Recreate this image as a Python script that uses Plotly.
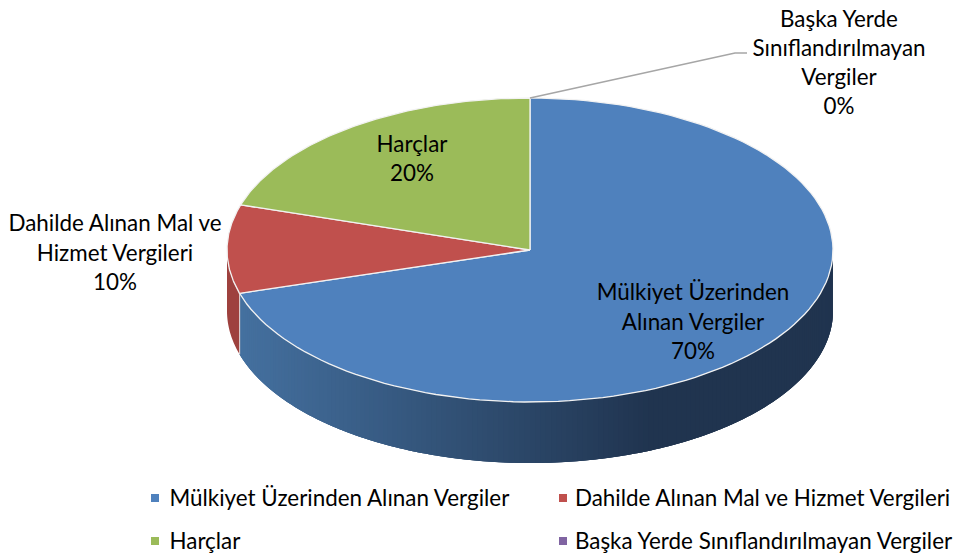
import numpy as np
import plotly.graph_objects as go

categories = ["Mülkiyet Üzerinden Alınan Vergiler", "Dahilde Alınan Mal ve Hizmet Vergileri",
              "Harçlar", "Başka Yerde Sınıflandırılmayan Vergiler"]
shares = [70.4, 9.4, 20.2, 0]
slice_colors = ["#4F81BD", "#C0504D", "#9BBB59", "#8064A2"]
label_text = ["Mülkiyet Üzerinden<br>Alınan Vergiler<br>70%", "Dahilde Alınan Mal ve<br>Hizmet Vergileri<br>10%",
              "Harçlar<br>20%", "Başka Yerde<br>Sınıflandırılmayan<br>Vergiler<br>0%"]
label_x = [693, 115, 412, 839]
label_y = [324, 255, 161, 65]
legend_x = [155, 563, 155, 563]
legend_y = [498, 498, 541, 541]
legend_text_y = [500, 500, 543, 543]
legend_text_x = [169.5, 575, 169.5, 575]

CX, CY, RX, RY, DEPTH = 530, 250, 303, 152, 61
FONT = "Lato"
FS = 22.4


def ell(t, dy=0):
    t = np.asarray(t)
    return CX + RX * np.sin(t), CY - RY * np.cos(t) + dy


def mix(a, b, f):
    a = [int(a[i:i + 2], 16) for i in (1, 3, 5)]
    b = [int(b[i:i + 2], 16) for i in (1, 3, 5)]
    return "rgb(%d,%d,%d)" % tuple(round(p + (q - p) * f) for p, q in zip(a, b))


fig = go.Figure()
edges = np.radians(np.cumsum([0] + shares) * 3.6)

# side wall: blue part with shading, red part flat
blue_end = edges[1]
ts = np.radians(np.arange(90, np.degrees(blue_end), 1.0)).tolist() + [blue_end]
for a, b in zip(ts[:-1], ts[1:]):
    seg = np.linspace(a, min(blue_end, b + np.radians(2)), 5)
    xt, yt = ell(seg)
    xb, yb = ell(seg[::-1], DEPTH)
    xm = CX + RX * np.sin((a + b) / 2)
    f = min(1, max(0, (xm - 241) / (650 - 241)))
    col = mix("#44709F", "#20344F", f)
    fig.add_trace(go.Scatter(x=np.r_[xt, xb], y=np.r_[yt, yb], mode="none", fill="toself",
                             fillcolor=col, hoverinfo="skip", showlegend=False))

seg = np.linspace(blue_end, np.radians(270), 16)
xt, yt = ell(seg)
xb, yb = ell(seg[::-1], DEPTH)
fig.add_trace(go.Scatter(x=np.r_[xt, xb], y=np.r_[yt, yb], mode="none", fill="toself", fillcolor="#9E413E",
                         hoverinfo="skip", showlegend=False))
xe, ye = ell([blue_end])
fig.add_trace(go.Scatter(x=[xe[0], xe[0]], y=[ye[0], ye[0] + DEPTH], mode="lines",
                         line=dict(color="#D9C8C8", width=1.2), hoverinfo="skip", showlegend=False))

# top face
for i, name in enumerate(categories):
    if shares[i] == 0:
        continue
    seg = np.linspace(edges[i], edges[i + 1], 120)
    x, y = ell(seg)
    fig.add_trace(go.Scatter(x=np.r_[CX, x, CX], y=np.r_[CY, y, CY], mode="lines", fill="toself",
                             fillcolor=slice_colors[i], line=dict(color="#F2F2F2", width=1.3),
                             name=name, hoverinfo="skip", showlegend=False))

# leader line of the 0% slice
fig.add_trace(go.Scatter(x=[CX, 735, 747], y=[CY - RY, 53, 53], mode="lines",
                         line=dict(color="#A6A6A6", width=1.5), hoverinfo="skip", showlegend=False))

# labels
fig.add_trace(go.Scatter(x=label_x, y=label_y, mode="text", text=label_text, textposition="middle center",
                         textfont=dict(family=FONT, size=FS, color="#000000"), hoverinfo="skip", showlegend=False))

# legend
fig.add_trace(go.Scatter(x=legend_x, y=legend_y, mode="markers",
                         marker=dict(symbol="square", size=8, color=slice_colors),
                         hoverinfo="skip", showlegend=False))
fig.add_trace(go.Scatter(x=legend_text_x, y=legend_text_y, mode="text", text=categories,
                         textposition="middle right",
                         textfont=dict(family=FONT, size=FS, color="#000000"), hoverinfo="skip", showlegend=False))

fig.update_layout(width=960, height=559, margin=dict(l=0, r=0, t=0, b=0), paper_bgcolor="white",
                  plot_bgcolor="white", showlegend=False,
                  xaxis=dict(range=[0, 960], visible=False, fixedrange=True),
                  yaxis=dict(range=[559, 0], visible=False, fixedrange=True))
fig.write_html("out.html", config={"displayModeBar": False},
               post_script="document.body.style.margin='0';document.documentElement.style.overflow='hidden';")
